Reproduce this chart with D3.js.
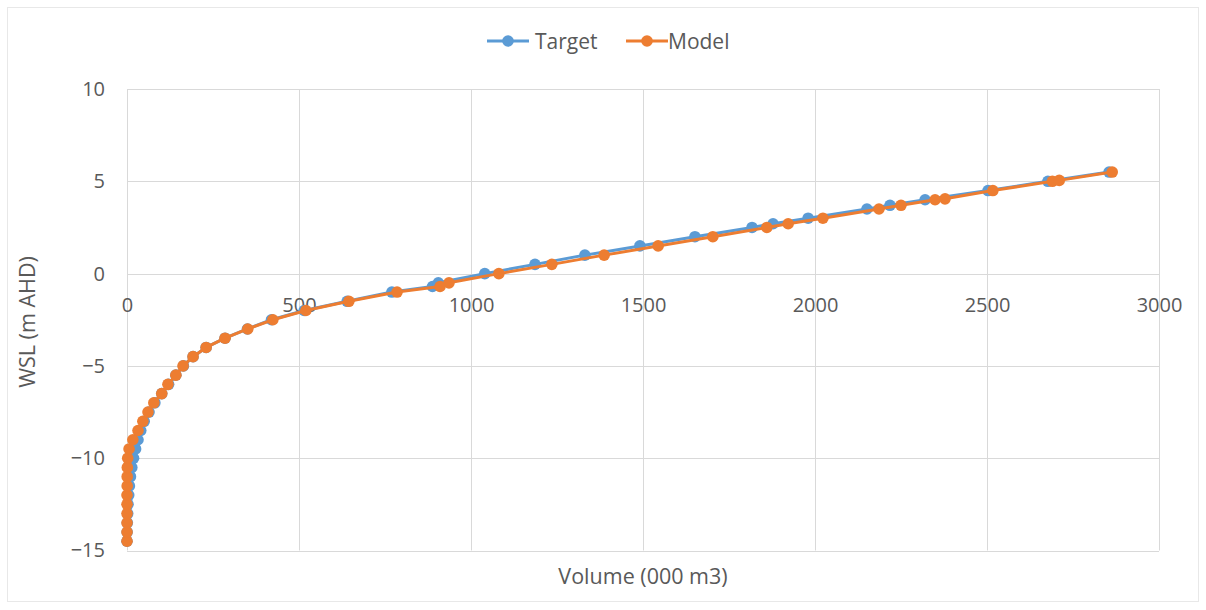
<!DOCTYPE html>
<html><head><meta charset="utf-8">
<script src="https://cdn.jsdelivr.net/npm/d3@7/dist/d3.min.js"></script>
<style>body{margin:0;background:#fff;}svg{display:block;font-family:"Open Sans",sans-serif;}</style>
</head><body><svg id="c" width="1206" height="610"></svg>
<script>
const wslTarget = [-14.5,-14,-13.5,-13,-12.5,-12,-11.5,-11,-10.5,-10,-9.5,-9,-8.5,-8,-7.5,-7,-6.5,-6,-5.5,-5,-4.5,-4,-3.5,-3,-2.5,-2,-1.5,-1,-0.7,-0.5,0,0.5,1,1.5,2,2.5,2.7,3,3.5,3.7,4,4.5,5,5.5];
const volTarget = [0,0.5,1,2,3,5,7,10,14,19,25,32,40,50,64,81,101,121,142,164,192,230,285,350,420,515,640,770,888,905,1040,1186,1331,1491,1651,1817,1878,1980,2151,2218,2320,2503,2677,2855];
const wslModel = [-14.5,-14,-13.5,-13,-12.5,-12,-11.5,-11,-10.5,-10,-9.5,-9,-8.5,-8,-7.5,-7,-6.5,-6,-5.5,-5,-4.5,-4,-3.5,-3,-2.5,-2,-1.5,-1,-0.7,-0.5,0,0.5,1,1.5,2,2.5,2.7,3,3.5,3.7,4,4.05,4.5,5,5.05,5.5];
const volModel = [0,0,0,0,0,0,0.5,0.5,1,2,6,17,32,46,61,78,101,119,142,163,192,230,285,351,424,520,645,785,910,936,1081,1235,1387,1544,1703,1860,1922,2023,2186,2250,2349,2378,2517,2690,2710,2864];
const xTicks = [0,500,1000,1500,2000,2500,3000];
const yTicks = [-15,-10,-5,0,5,10];
const seriesNames = ["Target","Model"];
const colors = ["#5B9BD5","#ED7D31"];

const svg = d3.select("#c");
svg.append("rect").attr("x",7.5).attr("y",7.5).attr("width",1191).attr("height",594)
  .attr("fill","#fff").attr("stroke","#e8e8e8");

const x = d3.scaleLinear().domain([0,3000]).range([127,1159]);
const y = d3.scaleLinear().domain([-15,10]).range([550.5,89]);
const fmt = d3.format("d");

// gridlines
svg.append("g").selectAll("line").data(yTicks).join("line")
  .attr("x1",x(0)).attr("x2",x(3000)).attr("y1",d=>Math.round(y(d))+0.5).attr("y2",d=>Math.round(y(d))+0.5)
  .attr("stroke","#d9d9d9").attr("stroke-width",1);
svg.append("g").selectAll("line").data(xTicks).join("line")
  .attr("x1",d=>Math.round(x(d))+0.5).attr("x2",d=>Math.round(x(d))+0.5).attr("y1",y(10)).attr("y2",y(-15))
  .attr("stroke","#d9d9d9").attr("stroke-width",1);

// y axis labels
const yAxis = d3.axisLeft(y).tickValues(yTicks).tickFormat(fmt).tickSize(0).tickPadding(0);
const gy = svg.append("g").attr("transform","translate(105,0)").call(yAxis);
gy.select(".domain").remove();
gy.selectAll("text").attr("font-size",20).attr("fill","#595959").attr("font-family","Open Sans");

// x axis labels (placed below zero line as in original)
const xAxis = d3.axisBottom(x).tickValues(xTicks).tickFormat(fmt).tickSize(0).tickPadding(0);
const gx = svg.append("g").attr("transform","translate(0,"+(y(0)+24)+")").call(xAxis);
gx.select(".domain").remove();
gx.selectAll("text").attr("font-size",20).attr("fill","#595959").attr("font-family","Open Sans");

// series
const data = [
  d3.zip(volTarget, wslTarget),
  d3.zip(volModel, wslModel)
];
const line = d3.line().x(d=>x(d[0])).y(d=>y(d[1]));
data.forEach((ds,i)=>{
  svg.append("path").datum(ds).attr("d",line).attr("fill","none")
    .attr("stroke",colors[i]).attr("stroke-width",3).attr("stroke-linejoin","round");
  svg.append("g").selectAll("circle").data(ds).join("circle")
    .attr("cx",d=>x(d[0])).attr("cy",d=>y(d[1])).attr("r",5.8).attr("fill",colors[i]);
});

// axis titles
svg.append("text").attr("x",643).attr("y",584).attr("text-anchor","middle")
  .attr("font-size",21.5).attr("fill","#595959").text("Volume (000 m3)");
svg.append("text").attr("transform","translate(35,322) rotate(-90)").attr("text-anchor","middle")
  .attr("font-size",21.5).attr("fill","#595959").text("WSL (m AHD)");

// legend
const legend = [{x:487,tx:535},{x:626,tx:668}];
legend.forEach((l,i)=>{
  svg.append("line").attr("x1",l.x).attr("x2",l.x+42).attr("y1",41).attr("y2",41)
    .attr("stroke",colors[i]).attr("stroke-width",3);
  svg.append("circle").attr("cx",l.x+21).attr("cy",41).attr("r",5.8).attr("fill",colors[i]);
  svg.append("text").attr("x",l.tx).attr("y",48.5).attr("font-size",21).attr("fill","#595959").text(seriesNames[i]);
});
</script></body></html>
